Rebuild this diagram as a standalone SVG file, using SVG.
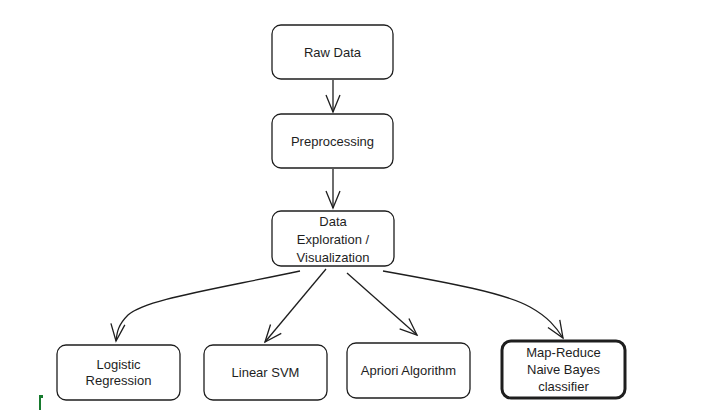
<svg xmlns="http://www.w3.org/2000/svg" width="718" height="410" viewBox="0 0 718 410">
<style>
.box{fill:#ffffff;stroke:#1e1e1e;stroke-width:1.3}
.bold{stroke-width:3}
.t{font-family:"Liberation Sans",Arial,sans-serif;font-size:13px;fill:#1e1e1e;text-anchor:middle}
.c{fill:none;stroke:#1e1e1e;stroke-width:1.3}
</style>
<defs>
<marker id="ah" viewBox="0 0 22 22" refX="20" refY="11" markerWidth="22" markerHeight="22" markerUnits="userSpaceOnUse" orient="auto">
<path d="M3,4 L20,11 L3,18" fill="none" stroke="#1e1e1e" stroke-width="1.3"/>
</marker>
</defs>
<rect width="718" height="410" fill="#ffffff"/>
<g id="connectors">
<path class="c" d="M333,80 L333,112" marker-end="url(#ah)"/>
<path class="c" d="M333,169 L333,208" marker-end="url(#ah)"/>
<path class="c" d="M300,271 C200,292 145,300 128,315 C118,325 117,332 116,341" marker-end="url(#ah)"/>
<path class="c" d="M326,269 L265,342" marker-end="url(#ah)"/>
<path class="c" d="M347,273 L417,335" marker-end="url(#ah)"/>
<path class="c" d="M383,271 C450,283 505,293 530,307 C548,317 556,327 563,338" marker-end="url(#ah)"/>
</g>
<g id="raw-data">
<rect class="box" x="272" y="25" width="121" height="54" rx="9"/>
<text class="t" x="332.5" y="57">Raw Data</text>
</g>
<g id="preprocessing">
<rect class="box" x="272" y="114" width="121" height="54" rx="9"/>
<text class="t" x="332.5" y="146">Preprocessing</text>
</g>
<g id="data-exploration">
<rect class="box" x="272" y="211" width="122" height="55" rx="9"/>
<text class="t" x="333" y="226">Data</text>
<text class="t" x="333" y="244">Exploration /</text>
<text class="t" x="333" y="262">Visualization</text>
</g>
<g id="logistic-regression">
<rect class="box" x="57" y="345" width="123" height="55" rx="9"/>
<text class="t" x="118.5" y="369">Logistic</text>
<text class="t" x="118.5" y="385">Regression</text>
</g>
<g id="linear-svm">
<rect class="box" x="204" y="345" width="123" height="55" rx="9"/>
<text class="t" x="265.5" y="377">Linear SVM</text>
</g>
<g id="apriori">
<rect class="box" x="347" y="343" width="123" height="55" rx="9"/>
<text class="t" x="408.5" y="375">Apriori Algorithm</text>
</g>
<g id="map-reduce">
<rect class="box bold" x="502" y="341" width="123" height="57" rx="9"/>
<text class="t" x="563.5" y="357">Map-Reduce</text>
<text class="t" x="563.5" y="374">Naive Bayes</text>
<text class="t" x="563.5" y="391">classifier</text>
</g>
<path d="M39,395 L43,395 L43,398 L41,398 L41,410 L39,410 Z" fill="#177a2e"/>
</svg>
